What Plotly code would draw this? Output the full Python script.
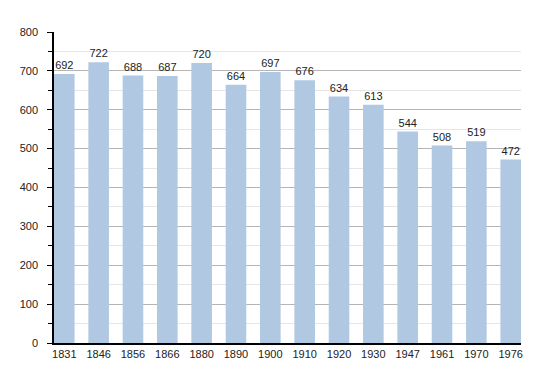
import plotly.graph_objects as go

years = ["1831", "1846", "1856", "1866", "1880", "1890", "1900", "1910", "1920", "1930", "1947", "1961", "1970", "1976"]
population = [692, 722, 688, 687, 720, 664, 697, 676, 634, 613, 544, 508, 519, 472]
y_ticks = [0, 100, 200, 300, 400, 500, 600, 700, 800]

xpos = list(range(len(years)))

fig = go.Figure(go.Bar(
    x=xpos, y=population, width=0.6,
    marker=dict(color="#b0c8e2", line=dict(width=0)),
    text=[str(v) for v in population], textposition="outside",
    textfont=dict(family="Liberation Sans, Arial, sans-serif", size=11, color="#222"),
    cliponaxis=False,
))

# page body has an 8px default margin, so the figure is offset by 8px
fig.update_layout(
    width=542, height=365,
    margin=dict(l=42, r=29, t=24, b=30),
    paper_bgcolor="white", plot_bgcolor="white",
    font=dict(family="Liberation Sans, Arial, sans-serif", size=11, color="#222"),
    showlegend=False,
)
fig.update_xaxes(
    tickmode="array", tickvals=xpos, ticktext=years,
    range=[-0.3, len(years) - 0.7],
    showline=True, linecolor="black", linewidth=1.5,
    ticks="", showgrid=False, zeroline=False,
)
fig.update_yaxes(
    range=[0, 800], tickvals=y_ticks,
    showline=True, linecolor="black", linewidth=1.5,
    ticks="outside", ticklen=5, tickcolor="black",
    ticklabelstandoff=7,
    showgrid=True, gridcolor="#b5b5b5", gridwidth=1,
    zeroline=False,
    minor=dict(dtick=50, ticks="outside", ticklen=4, tickcolor="black",
               showgrid=True, gridcolor="#e6e6e6", gridwidth=1),
)

fig.write_html("out.html")
